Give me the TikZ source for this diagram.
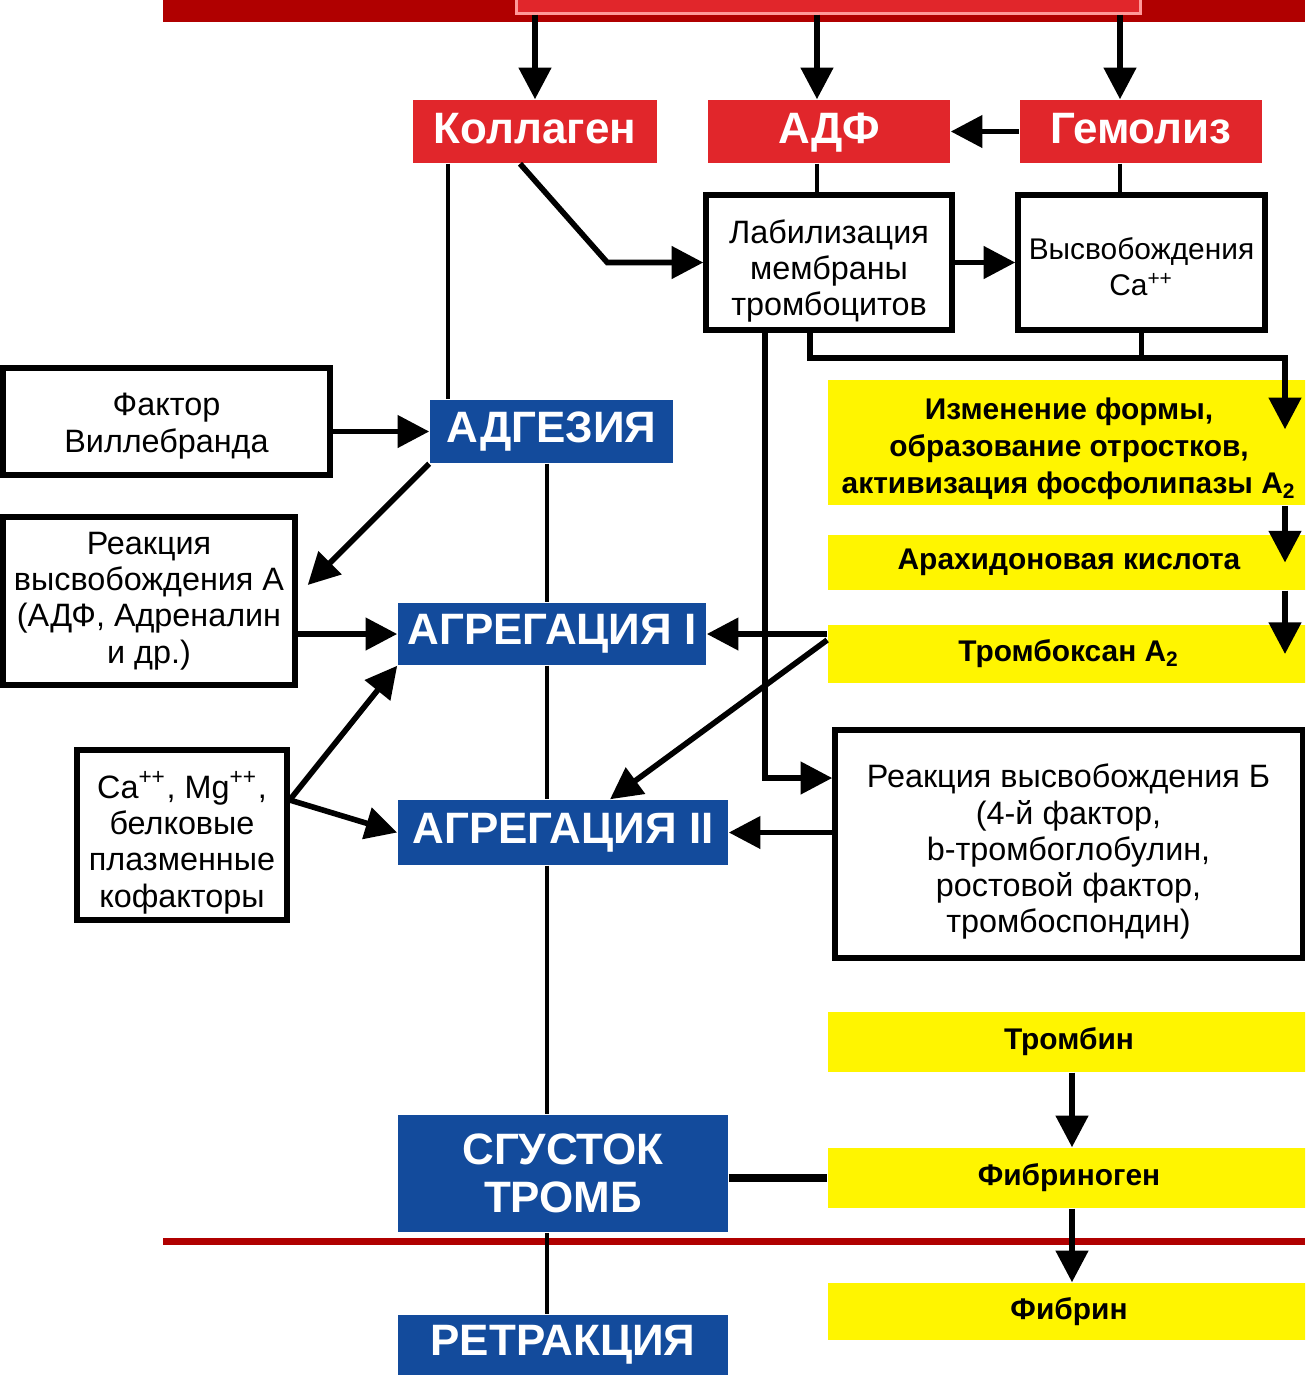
\documentclass[tikz,border=0pt]{standalone}
\usepackage{fontspec}
\setmainfont{Liberation Sans}
\usetikzlibrary{calc,arrows.meta,positioning}
\definecolor{barred}{HTML}{B00000}
\definecolor{boxred}{HTML}{E1262B}
\definecolor{boxblue}{HTML}{134B9C}
\definecolor{boxyellow}{HTML}{FFF500}
\newcommand{\toprule}[1]{\rule{0pt}{#1}}
\tikzset{
  stage/.style={inner sep=0pt, align=center, text=white, font=\fontsize{12.5}{13.5}\selectfont\bfseries},
  redbox/.style={stage, fill=boxred, minimum height=0.63cm, text height=9.5pt, text depth=2.5pt},
  bluebox/.style={stage, fill=boxblue},
  plainbox/.style={draw=black, line width=1.5pt, fill=white, inner sep=0pt, align=center, font=\fontsize{9.2}{10.3}\selectfont},
  yellowbox/.style={fill=boxyellow, inner sep=0pt, align=center, minimum width=4.82cm, font=\fontsize{8.5}{10.5}\selectfont\bfseries},
  arr/.style={line width=1.6pt, -{Triangle[length=9pt,width=9pt]}},
  link/.style={line width=1.3pt},
}
\begin{document}
\begin{tikzpicture}[x=0.01cm,y=-0.01cm]
    \clip (0,0) rectangle (1305,1375);
    \fill[barred] (163,0) rectangle (1305,22);
    \fill[barred] (163,1238) rectangle (1305,1245);

    \node[redbox, draw=red!40!white, line width=0.8pt, minimum width=6.23cm, minimum height=0.3cm] (src) at (828.5,-8) {};
    \node[redbox, minimum width=2.44cm] (koll) at (535,131.5) {Коллаген};
    \node[redbox, minimum width=2.42cm] (adf) at (829,131.5) {АДФ};
    \node[redbox, minimum width=2.42cm] (gem) at (1141,131.5) {Гемолиз};
    \node[plainbox, minimum width=2.46cm, minimum height=1.35cm] (lab) at (829,262.5) {\toprule{11.7pt}Лабилизация\\мембраны\\тромбоцитов};
    \node[plainbox, minimum width=2.47cm, minimum height=1.35cm, font=\fontsize{8.5}{10.3}\selectfont] (vys) at (1141.5,262.5) {\toprule{8.5pt}Высвобождения\\Ca\textsuperscript{++}};
    \node[bluebox, minimum width=2.43cm, minimum height=0.63cm] (adg) at (551.5,431.5) {АДГЕЗИЯ};
    \node[plainbox, minimum width=3.27cm, minimum height=1.07cm] (fak) at (166.5,421.5) {\toprule{9pt}Фактор\\Виллебранда};
    \node[plainbox, minimum width=2.92cm, minimum height=1.68cm] (reakA) at (149,601) {Реакция\\высвобождения А\\(АДФ, Адреналин\\и др.)};
    \node[bluebox, minimum width=3.08cm, minimum height=0.62cm] (agr1) at (552,634) {АГРЕГАЦИЯ I};
    \node[plainbox, minimum width=2.10cm, minimum height=1.70cm] (cabox) at (182,835) {\toprule{12pt}Ca\textsuperscript{++}, Mg\textsuperscript{++},\\белковые\\плазменные\\кофакторы};
    \node[bluebox, minimum width=3.30cm, minimum height=0.65cm] (agr2) at (563,832.5) {АГРЕГАЦИЯ II};
    \node[yellowbox, minimum height=1.25cm] (izm) at (1069,442.5) {\toprule{9.8pt}Изменение формы,\\образование отростков,\\активизация фосфолипазы А\textsubscript{2}};
    \node[yellowbox, minimum height=0.55cm] (arah) at (1069,562.5) {Арахидоновая кислота};
    \node[yellowbox, minimum height=0.58cm] (trbx) at (1069,654) {Тромбоксан А\textsubscript{2}};
    \node[plainbox, minimum width=4.67cm, minimum height=2.28cm] (reakB) at (1068.5,844) {\toprule{11.2pt}Реакция высвобождения Б\\(4-й фактор,\\b-тромбоглобулин,\\ростовой фактор,\\тромбоспондин)};
    \node[yellowbox, minimum height=0.60cm] (trombin) at (1069,1042) {Тромбин};
    \node[yellowbox, minimum height=0.60cm] (fibrinog) at (1069,1178) {Фибриноген};
    \node[yellowbox, minimum height=0.57cm] (fibrin) at (1069,1311.5) {Фибрин};
    \node[bluebox, minimum width=3.30cm, minimum height=1.17cm] (sgust) at (563,1173.5) {СГУСТОК\\ТРОМБ};
    \node[bluebox, minimum width=3.30cm, minimum height=0.60cm] (retr) at (563,1345) {РЕТРАКЦИЯ};

    \coordinate (xa) at (817,0);
    \coordinate (xg) at (1120,0);
    \coordinate (xk) at (448,0);
    \coordinate (xc) at (547,0);
    \coordinate (xl) at (765,0);
    \coordinate (xm) at (810,0);
    \coordinate (xf) at (1072,0);
    \coordinate (bus) at (1285,358);
    \coordinate (cafork) at ($(cabox.east)+(0,-35)$);

    \draw[arr] (src.south -| koll) -- (koll.north);
    \draw[arr] (src.south -| xa) -- (adf.north -| xa);
    \draw[arr] (src.south -| xg) -- (gem.north -| xg);
    \draw[arr] (gem.west) -- (adf.east);
    \draw[link] (adf.south -| xa) -- (lab.north -| xa);
    \draw[link] (gem.south -| xg) -- (vys.north -| xg);
    \draw[arr] (lab.east) -- (vys.west);
    \draw[arr] ($(koll.south)+(-15,0)$) -- ($(lab.west)+(-96,0)$) -- (lab.west);
    \draw[link] (koll.south -| xk) -- (adg.north -| xk);
    \draw[arr] (fak.east |- adg.west) -- (adg.west);
    \draw[arr] (adg.south west) -- ($(reakA.east)+(10,-16)$);
    \draw[arr] (reakA.east |- agr1.west) -- (agr1.west);
    \draw[arr] (cafork) -- (agr1.south west);
    \draw[arr] (cafork) -- (agr2.west);
    \draw[arr] (trbx.west |- agr1.east) -- (agr1.east);
    \draw[arr] ($(trbx.west)+(0,-14)$) -- ($(agr2.north)+(47,0)$);
    \draw[arr] (lab.south -| xl) |- ($(reakB.west)+(0,-66)$);
    \draw[arr] (lab.south -| xm) |- (bus) -- ($(bus |- izm.north)+(0,50)$);
    \draw[link] (vys.south) -- (vys.south |- bus);
    \draw[arr] (izm.south -| bus) -- (arah.center -| bus);
    \draw[arr] (arah.south -| bus) -- (trbx.center -| bus);
    \draw[arr] (reakB.west |- agr2.east) -- (agr2.east);
    \draw[link] (adg.south -| xc) -- (agr1.north -| xc)
      (agr1.south -| xc) -- (agr2.north -| xc)
      (agr2.south -| xc) -- (sgust.north -| xc)
      (sgust.south -| xc) -- (retr.north -| xc);
    \draw[arr] (trombin.south -| xf) -- (fibrinog.north -| xf);
    \draw[arr] (fibrinog.south -| xf) -- (fibrin.north -| xf);
    \draw[line width=2pt] (sgust.east |- fibrinog.west) -- (fibrinog.west);
\end{tikzpicture}
\end{document}
